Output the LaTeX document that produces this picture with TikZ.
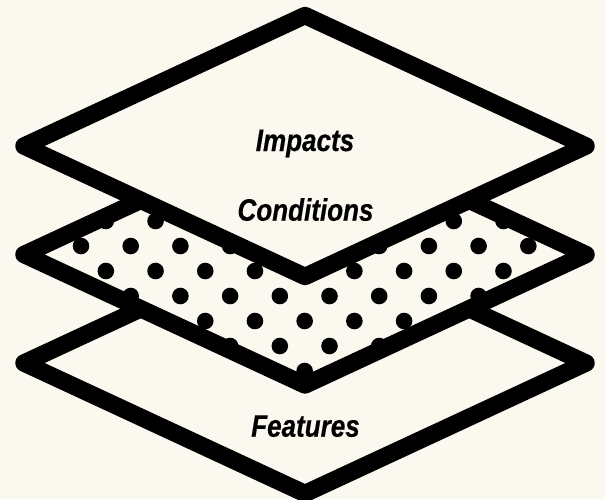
\documentclass[tikz,border=0pt]{standalone}
\usepackage{fontspec}
\setmainfont{Liberation Sans}
\newfontfamily\labelfont[FakeStretch=0.84,FakeBold=0.4]{Liberation Sans}
\definecolor{paper}{HTML}{FBF8F0}
\tikzset{
  sheet/.style={draw=black,fill=paper,line width=17.4pt,line join=round},
  layerlabel/.style={anchor=base,inner sep=0pt,font=\labelfont\fontsize{31}{31}\selectfont\bfseries\itshape,text=black},
  spot/.style={fill=black,draw=none}
}
\begin{document}
\begin{tikzpicture}[x=1pt,y=-1pt]
\useasboundingbox (0,0) rectangle (605,499);
\fill[paper] (0,0) rectangle (605,499);
\begin{scope}
\clip (0,0) rectangle (605,499);
% bottom sheet
\draw[sheet] (24,363) -- (305,232.5) -- (586,363) -- (305,493.5) -- cycle;
% middle sheet with dots
\fill[paper] (24,254.5) -- (305,124) -- (586,254.5) -- (305,385) -- cycle;
\begin{scope}
\clip (24,254.5) -- (305,124) -- (586,254.5) -- (305,385) -- cycle;
\foreach \j in {-3,...,5}{
  \foreach \i in {-2,...,20}{
    \pgfmathtruncatemacro{\oddness}{mod(\i+\j+100,2)}
    \ifnum\oddness=0
      \fill[spot] ({81+24.85*\i},{246+25*\j}) circle (8.3);
    \fi
  }
}
\end{scope}
\draw[line width=17.4pt,line join=round] (24,254.5) -- (305,124) -- (586,254.5) -- (305,385) -- cycle;
% top sheet
\draw[sheet] (24,146) -- (305,15.5) -- (586,146) -- (305,276.5) -- cycle;
\end{scope}
\node[layerlabel] (impacts) at (305,151) {Impacts};
\node[layerlabel] (conditions) at (305.5,220.7) {Conditions};
\node[layerlabel] (features) at (305.5,436.7) {Features};
\end{tikzpicture}
\end{document}
